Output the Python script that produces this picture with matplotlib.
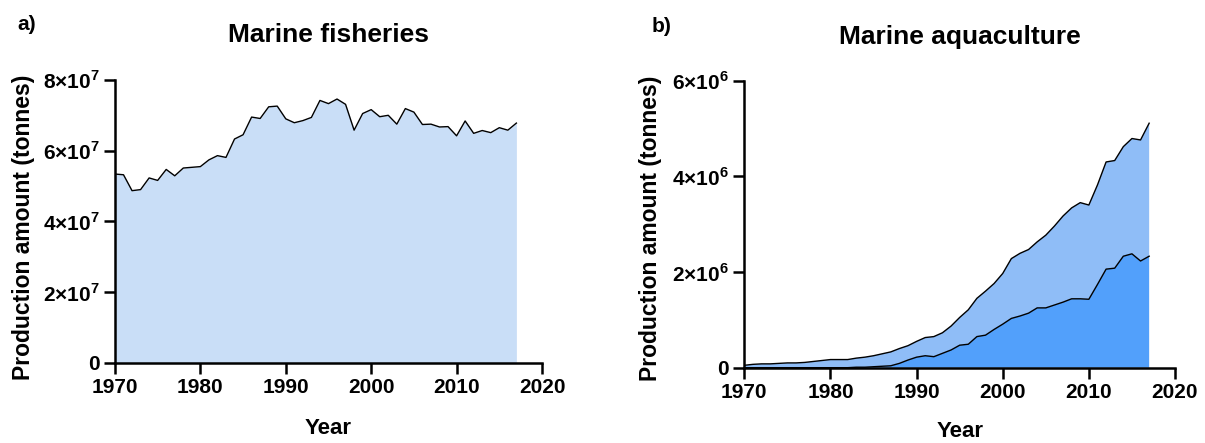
import numpy as np
import matplotlib
matplotlib.use("Agg")
import matplotlib.pyplot as plt
from matplotlib.ticker import FixedLocator, FuncFormatter

plt.rcParams['font.family'] = ['Liberation Sans', 'DejaVu Sans']
plt.rcParams['font.weight'] = 'bold'
plt.rcParams['mathtext.fontset'] = 'custom'
plt.rcParams['mathtext.rm'] = 'Liberation Sans:bold'
plt.rcParams['mathtext.bf'] = 'Liberation Sans:bold'

years = np.arange(1970, 2018)

# marine fisheries, units of 1e7 tonnes
fisheries = [5.34, 5.32, 4.87, 4.90, 5.23, 5.16, 5.47, 5.29, 5.51, 5.53,
             5.55, 5.74, 5.86, 5.81, 6.33, 6.45, 6.95, 6.91, 7.24, 7.26,
             6.90, 6.79, 6.85, 6.94, 7.42, 7.33, 7.46, 7.31, 6.58, 7.05,
             7.16, 6.96, 7.00, 6.75, 7.19, 7.09, 6.74, 6.75, 6.67, 6.68,
             6.42, 6.84, 6.49, 6.57, 6.51, 6.65, 6.58, 6.78]

# marine aquaculture, units of 1e6 tonnes (lower band and total)
aqua_lower = [0.00, 0.00, 0.00, 0.00, 0.00, 0.00, 0.00, 0.00, 0.00, 0.00,
              0.00, 0.00, 0.00, 0.01, 0.01, 0.02, 0.03, 0.04, 0.09, 0.16,
              0.22, 0.25, 0.23, 0.30, 0.37, 0.47, 0.49, 0.65, 0.68, 0.80,
              0.91, 1.03, 1.08, 1.14, 1.25, 1.25, 1.31, 1.37, 1.44, 1.44,
              1.43, 1.74, 2.06, 2.08, 2.33, 2.38, 2.23, 2.33]
aqua_total = [0.05, 0.07, 0.08, 0.08, 0.09, 0.10, 0.10, 0.11, 0.13, 0.15,
              0.17, 0.17, 0.17, 0.20, 0.22, 0.25, 0.29, 0.33, 0.40, 0.46,
              0.55, 0.63, 0.65, 0.73, 0.87, 1.05, 1.21, 1.45, 1.60, 1.76,
              1.97, 2.28, 2.39, 2.47, 2.63, 2.77, 2.96, 3.17, 3.34, 3.45,
              3.40, 3.82, 4.30, 4.33, 4.62, 4.79, 4.76, 5.11]
aqua_upper = [t - l for t, l in zip(aqua_total, aqua_lower)]

x_ticks = [1970, 1980, 1990, 2000, 2010, 2020]
fish_ticks = [0, 2, 4, 6, 8]
aqua_ticks = [0, 2, 4, 6]


def sci_fmt(exp):
    def f(v, pos):
        if v == 0:
            return '0'
        return r'$%d{\times}10^{%d}$' % (round(v / 10 ** exp), exp)
    return f


def style_axes(ax):
    for s in ['top', 'right']:
        ax.spines[s].set_visible(False)
    for s in ['left', 'bottom']:
        ax.spines[s].set_linewidth(1.8)
    ax.tick_params(width=1.8, length=8, labelsize=15, pad=3)
    ax.set_xlim(1970, 2020)
    ax.xaxis.set_major_locator(FixedLocator(x_ticks))
    ax.margins(0)


fig = plt.figure(figsize=(12.05, 4.43), dpi=100)

# a) marine fisheries
ax1 = fig.add_axes([0.0954, 0.1806, 0.3544, 0.639])
fish = np.array(fisheries) * 1e7
ax1.fill_between(years, 0, fish, color='#c9def7', linewidth=0)
ax1.plot(years, fish, color='black', lw=1.0)
style_axes(ax1)
ax1.set_ylim(0, 8e7)
ax1.yaxis.set_major_locator(FixedLocator([v * 1e7 for v in fish_ticks]))
ax1.yaxis.set_major_formatter(FuncFormatter(sci_fmt(7)))
ax1.set_ylabel('Production amount (tonnes)', fontsize=16.5, fontweight='bold')
ax1.yaxis.set_label_coords(-0.187, 0.48)
ax1.set_xlabel('Year', fontsize=16, fontweight='bold')
ax1.xaxis.set_label_coords(0.5, -0.195)
ax1.text(0.5, 1.159, 'Marine fisheries', transform=ax1.transAxes,
         ha='center', va='center', fontsize=19, fontweight='bold')

# b) marine aquaculture
ax2 = fig.add_axes([0.6177, 0.170, 0.3574, 0.648])
low = np.array(aqua_lower) * 1e6
up = np.array(aqua_upper) * 1e6
ax2.stackplot(years, low, up, colors=['#52a0fb', '#8fbdf7'], linewidth=0)
ax2.plot(years, low, color='black', lw=1.0)
ax2.plot(years, low + up, color='black', lw=1.0)
style_axes(ax2)
ax2.set_ylim(0, 6e6)
ax2.yaxis.set_major_locator(FixedLocator([v * 1e6 for v in aqua_ticks]))
ax2.yaxis.set_major_formatter(FuncFormatter(sci_fmt(6)))
ax2.set_ylabel('Production amount (tonnes)', fontsize=16.5, fontweight='bold')
ax2.yaxis.set_label_coords(-0.191, 0.487)
ax2.set_xlabel('Year', fontsize=16, fontweight='bold')
ax2.xaxis.set_label_coords(0.5, -0.185)
ax2.text(0.5, 1.152, 'Marine aquaculture', transform=ax2.transAxes,
         ha='center', va='center', fontsize=19, fontweight='bold')

for ax in (ax1, ax2):
    for lab in ax.get_xticklabels() + ax.get_yticklabels():
        lab.set_fontweight('bold')

fig.text(27 / 1205, 1 - 25 / 443, 'a)', ha='center', va='center',
         fontsize=15, fontweight='bold')
fig.text(662 / 1205, 1 - 27 / 443, 'b)', ha='center', va='center',
         fontsize=15, fontweight='bold')

fig.savefig('out.png', dpi=100)
